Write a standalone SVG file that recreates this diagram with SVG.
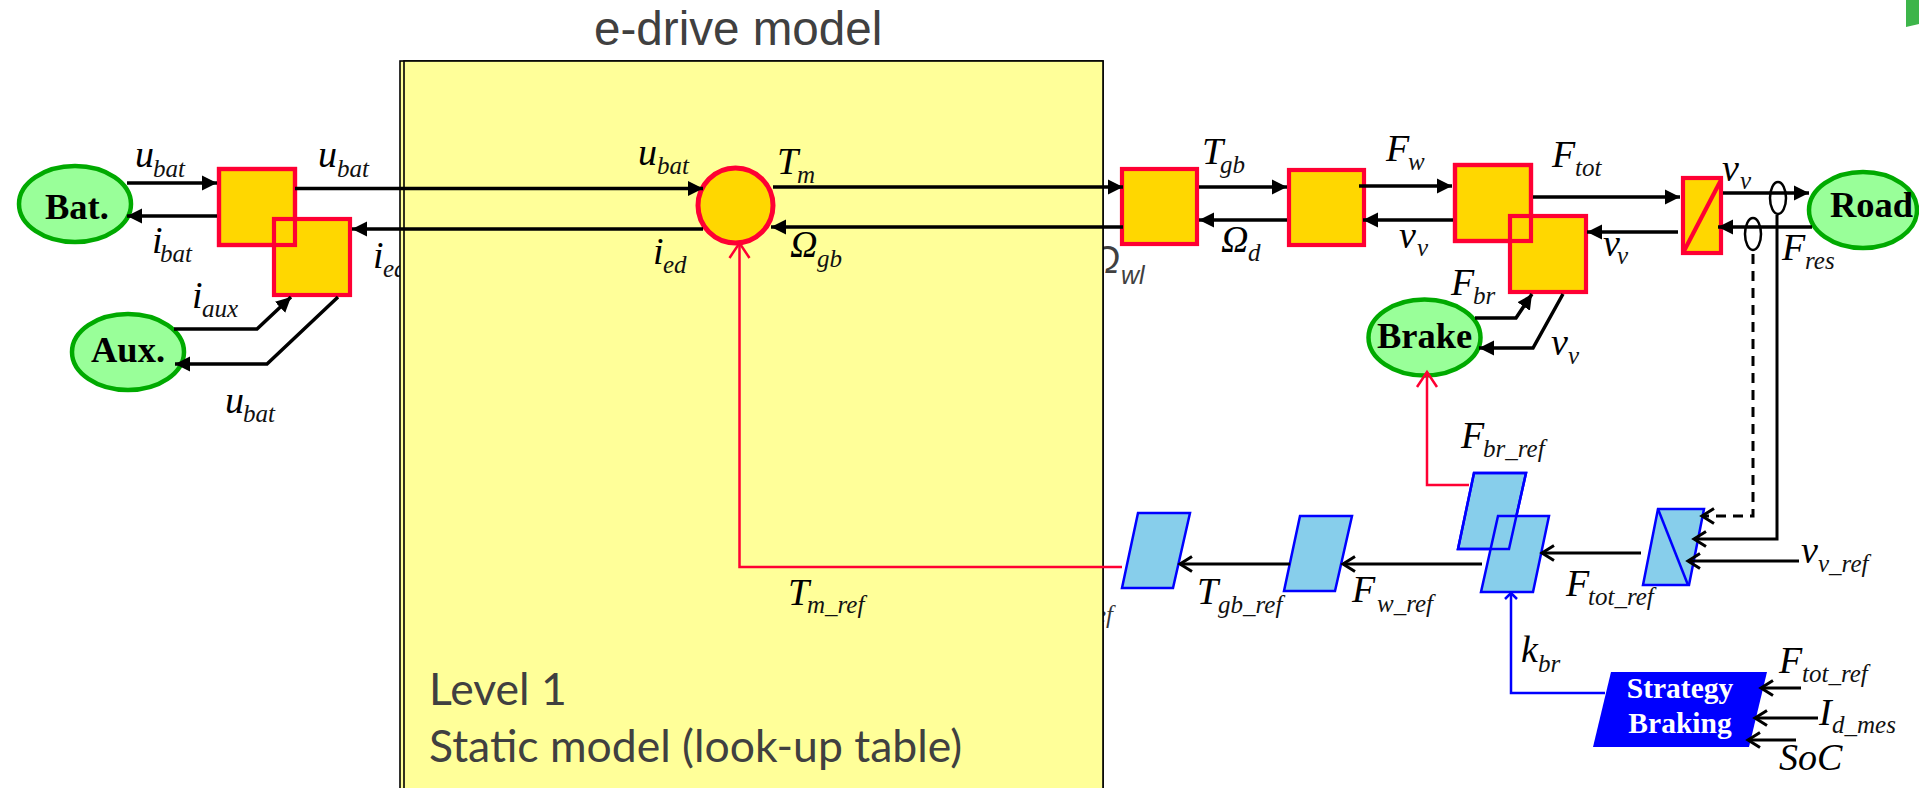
<svg xmlns="http://www.w3.org/2000/svg" width="1919" height="788" viewBox="0 0 1919 788">
<style>
.m{font:italic 38px "Liberation Serif",serif;fill:#000}
.s{font:italic 25px "Liberation Serif",serif;fill:#111}
.b{font:bold 36.5px "Liberation Serif",serif;fill:#000}
.w{font:bold 29.500px "Liberation Serif",serif;fill:#fff;text-anchor:middle}
.g{font-family:"Liberation Sans",Arial,sans-serif;fill:#404040}
.l{font-family:Lato,"Open Sans",sans-serif;font-size:44.500px;fill:#404040}
.box{fill:#FFD700;stroke:#FF0033;stroke-width:4.200}
.edge{fill:none;stroke:#FF0033;stroke-width:4.200}
.ell{fill:#99FF99;stroke:#00AA00;stroke-width:4.500}
.par{fill:#87CEEB;stroke:#0000FF;stroke-width:2.500}
.pe{fill:none;stroke:#0000FF;stroke-width:2.500}
.c{fill:none;stroke:#000;stroke-width:3.500}
.f{marker-end:url(#fa)}
.o{stroke-width:3;marker-end:url(#oa)}
.r{fill:none;stroke:#FF0033;stroke-width:2.500;marker-end:url(#or)}
.u{fill:none;stroke:#0000FF;stroke-width:2.500;marker-end:url(#ou)}
.t{fill:none;stroke:#000;stroke-width:2.500}
</style>
<defs>
<marker id="fa" markerUnits="userSpaceOnUse" markerWidth="16" markerHeight="16" refX="15" refY="8" orient="auto"><path d="M0,0.5L15,8L0,15.500z" fill="#000"/></marker>
<marker id="oa" markerUnits="userSpaceOnUse" markerWidth="18" markerHeight="24" refX="14" refY="12" orient="auto"><path d="M2,4.500L14,12L2,19.500" fill="none" stroke="#000" stroke-width="3"/></marker>
<marker id="or" markerUnits="userSpaceOnUse" markerWidth="20" markerHeight="26" refX="16" refY="13" orient="auto"><path d="M1,3L16,13L1,23" fill="none" stroke="#FF0033" stroke-width="2.500"/></marker>
<marker id="ou" markerUnits="userSpaceOnUse" markerWidth="10" markerHeight="16" refX="7" refY="8" orient="auto"><path d="M1,2L7,8L1,14" fill="none" stroke="#0000FF" stroke-width="2.500"/></marker>
</defs>
<rect width="1919" height="788" fill="#fff"/>
<polygon id="corner" points="1906,0 1919,0 1919,24 1906,27" fill="#3DB54A"/>
<g id="hidden-labels">
<text class="m" x="373" y="268">i</text><text class="s" x="383" y="277">ed</text>
<text class="g" x="1091" y="273" font-size="38" font-style="italic">Ω</text><text class="g" x="1121" y="284" font-size="25" font-style="italic">wl</text>
<text class="s" x="1095" y="623" fill-opacity=".85">ef</text>
</g>
<g id="e-drive-block">
<rect x="400" y="61" width="703" height="760" fill="#FFFF99" stroke="#000" stroke-width="1.600"/>
<rect x="404" y="61" width="699" height="760" fill="#FFFF99" stroke="#000" stroke-width="1.600"/>
<text class="g" x="594" y="45" font-size="47.600">e-drive model</text>
<text class="l" x="429" y="705">Level 1</text>
<text class="l" x="429" y="762" font-size="45">Static model (look-up table)</text>
</g>
<g id="bat"><ellipse class="ell" cx="75" cy="204" rx="56" ry="38"/><text class="b" x="45" y="219">Bat.</text></g>
<g id="aux"><ellipse class="ell" cx="128" cy="352" rx="56" ry="38"/><text class="b" x="91" y="362">Aux.</text></g>
<g id="brake"><ellipse class="ell" cx="1424.5" cy="337.5" rx="56" ry="38"/><text class="b" x="1377" y="348">Brake</text></g>
<g id="road"><ellipse class="ell" cx="1863" cy="210" rx="54" ry="38"/><text class="b" x="1830" y="217">Road</text></g>
<g id="conv1"><rect class="box" x="219" y="169" width="76" height="76"/></g>
<g id="conv2"><rect class="box" x="274" y="219" width="76" height="76"/><rect class="edge" x="219" y="169" width="76" height="76"/></g>
<g id="machine"><circle cx="735.5" cy="205.5" r="37.5" fill="#FFD700" stroke="#FF0033" stroke-width="5"/></g>
<g id="gearbox"><rect class="box" x="1122" y="169" width="75" height="75"/></g>
<g id="diff"><rect class="box" x="1289" y="170" width="75" height="75"/></g>
<g id="wheel"><rect class="box" x="1455" y="165" width="76" height="76"/></g>
<g id="brakecoup"><rect class="box" x="1510" y="216" width="76" height="76"/><rect class="edge" x="1455" y="165" width="76" height="76"/></g>
<g id="chassis"><rect class="box" x="1683" y="178" width="38" height="75"/><path class="edge" d="M1721,180L1684,251"/></g>
<g id="inv-machine"><polygon class="par" points="1138,513 1190,513 1173,588 1122,588"/></g>
<g id="inv-wheel"><polygon class="par" points="1300,516 1352,516 1335,591 1284,591"/></g>
<g id="inv-brake"><polygon class="par" points="1474,473 1526,473 1509,549 1458,549"/></g>
<g id="inv-tot"><polygon class="par" points="1498,516 1549,516 1533,592 1481,592"/><polygon class="pe" points="1474,473 1526,473 1509,549 1458,549"/></g>
<g id="inv-chassis"><polygon class="par" points="1658,509 1704,509 1689,585 1643,585"/><path class="pe" d="M1658,509L1688,585"/></g>
<g id="strategy"><polygon points="1611,672 1767,672 1749,747 1593,747" fill="#0000FF"/><text class="w" x="1680" y="698">Strategy</text><text class="w" x="1680" y="733">Braking</text></g>
<g id="connectors">
<path class="c f" d="M127,183H217"/>
<path class="c f" d="M217,216H127"/>
<path class="c f" d="M295,188.500H703"/>
<path class="c f" d="M703,229H352"/>
<path class="c f" d="M174,329H257L291,297"/>
<path class="c f" d="M338,297L267,364H175"/>
<path class="c f" d="M773,187H1123"/>
<path class="c f" d="M1123,227H771"/>
<path class="c f" d="M1199,187H1287"/>
<path class="c f" d="M1287,220H1199"/>
<path class="c f" d="M1359,186H1452"/>
<path class="c f" d="M1453,220H1363"/>
<path class="c f" d="M1533,197H1680"/>
<path class="c f" d="M1678,232H1587"/>
<path class="c f" d="M1723,193H1809"/>
<path class="c f" d="M1812,227H1718"/>
<path class="c f" d="M1475,318H1516L1532,294"/>
<path class="c f" d="M1563,294L1533,348H1479"/>
<ellipse class="t" cx="1778" cy="198" rx="8" ry="16"/>
<ellipse class="t" cx="1753" cy="234" rx="8" ry="16"/>
<path class="c o" d="M1777,215V539H1694"/>
<path class="c o" stroke-dasharray="10 7" d="M1753,254V516H1702"/>
<path class="c o" d="M1799,561H1688"/>
<path class="c o" d="M1641,553H1542"/>
<path class="c o" d="M1482,564H1343"/>
<path class="c o" d="M1290,564H1180"/>
<path class="c o" d="M1801,688H1761"/>
<path class="c o" d="M1818,718H1755"/>
<path class="c o" d="M1796,740H1748"/>
<path class="r" d="M1469,485H1427V372"/>
<path class="r" d="M1122,567H739.500V243"/>
<path class="u" d="M1605,693H1511V593"/>
</g>
<g id="labels">
<text class="m" x="135" y="167">u</text><text class="s" x="153" y="177">bat</text>
<text class="m" x="318" y="167">u</text><text class="s" x="337" y="177">bat</text>
<text class="m" x="152" y="253">i</text><text class="s" x="160" y="262">bat</text>
<text class="m" x="192" y="308">i</text><text class="s" x="202" y="317">aux</text>
<text class="m" x="225" y="413">u</text><text class="s" x="243" y="422">bat</text>
<text class="m" x="638" y="165">u</text><text class="s" x="657" y="174">bat</text>
<text class="m" x="777" y="174">T</text><text class="s" x="797" y="183">m</text>
<text class="m" x="653" y="264">i</text><text class="s" x="663" y="273">ed</text>
<text class="m" x="790" y="257">Ω</text><text class="s" x="817" y="267">gb</text>
<text class="m" x="1202" y="164">T</text><text class="s" x="1220" y="173">gb</text>
<text class="m" x="1386" y="161">F</text><text class="s" x="1408" y="170">w</text>
<text class="m" x="1221" y="252">Ω</text><text class="s" x="1248" y="261">d</text>
<text class="m" x="1399" y="248">v</text><text class="s" x="1417" y="256">v</text>
<text class="m" x="1451" y="295">F</text><text class="s" x="1473" y="304">br</text>
<text class="m" x="1552" y="167">F</text><text class="s" x="1575" y="176">tot</text>
<text class="m" x="1722" y="181">v</text><text class="s" x="1740" y="189">v</text>
<text class="m" x="1603" y="256">v</text><text class="s" x="1617" y="264">v</text>
<text class="m" x="1782" y="260">F</text><text class="s" x="1805" y="269">res</text>
<text class="m" x="1551" y="355">v</text><text class="s" x="1568" y="364">v</text>
<text class="m" x="1461" y="448">F</text><text class="s" x="1483" y="457">br_ref</text>
<text class="m" x="1801" y="563">v</text><text class="s" x="1818" y="572">v_ref</text>
<text class="m" x="1566" y="596">F</text><text class="s" x="1588" y="605">tot_ref</text>
<text class="m" x="1521" y="662">k</text><text class="s" x="1538" y="672">br</text>
<text class="m" x="1779" y="673">F</text><text class="s" x="1802" y="682">tot_ref</text>
<text class="m" x="1819" y="725">I</text><text class="s" x="1832" y="733">d_mes</text>
<text class="m" x="1779" y="770">SoC</text>
<text class="m" x="788" y="605">T</text><text class="s" x="807" y="613">m_ref</text>
<text class="m" x="1352" y="602">F</text><text class="s" x="1377" y="612">w_ref</text>
<text class="m" x="1197" y="604">T</text><text class="s" x="1218" y="613">gb_ref</text>
</g>
</svg>
